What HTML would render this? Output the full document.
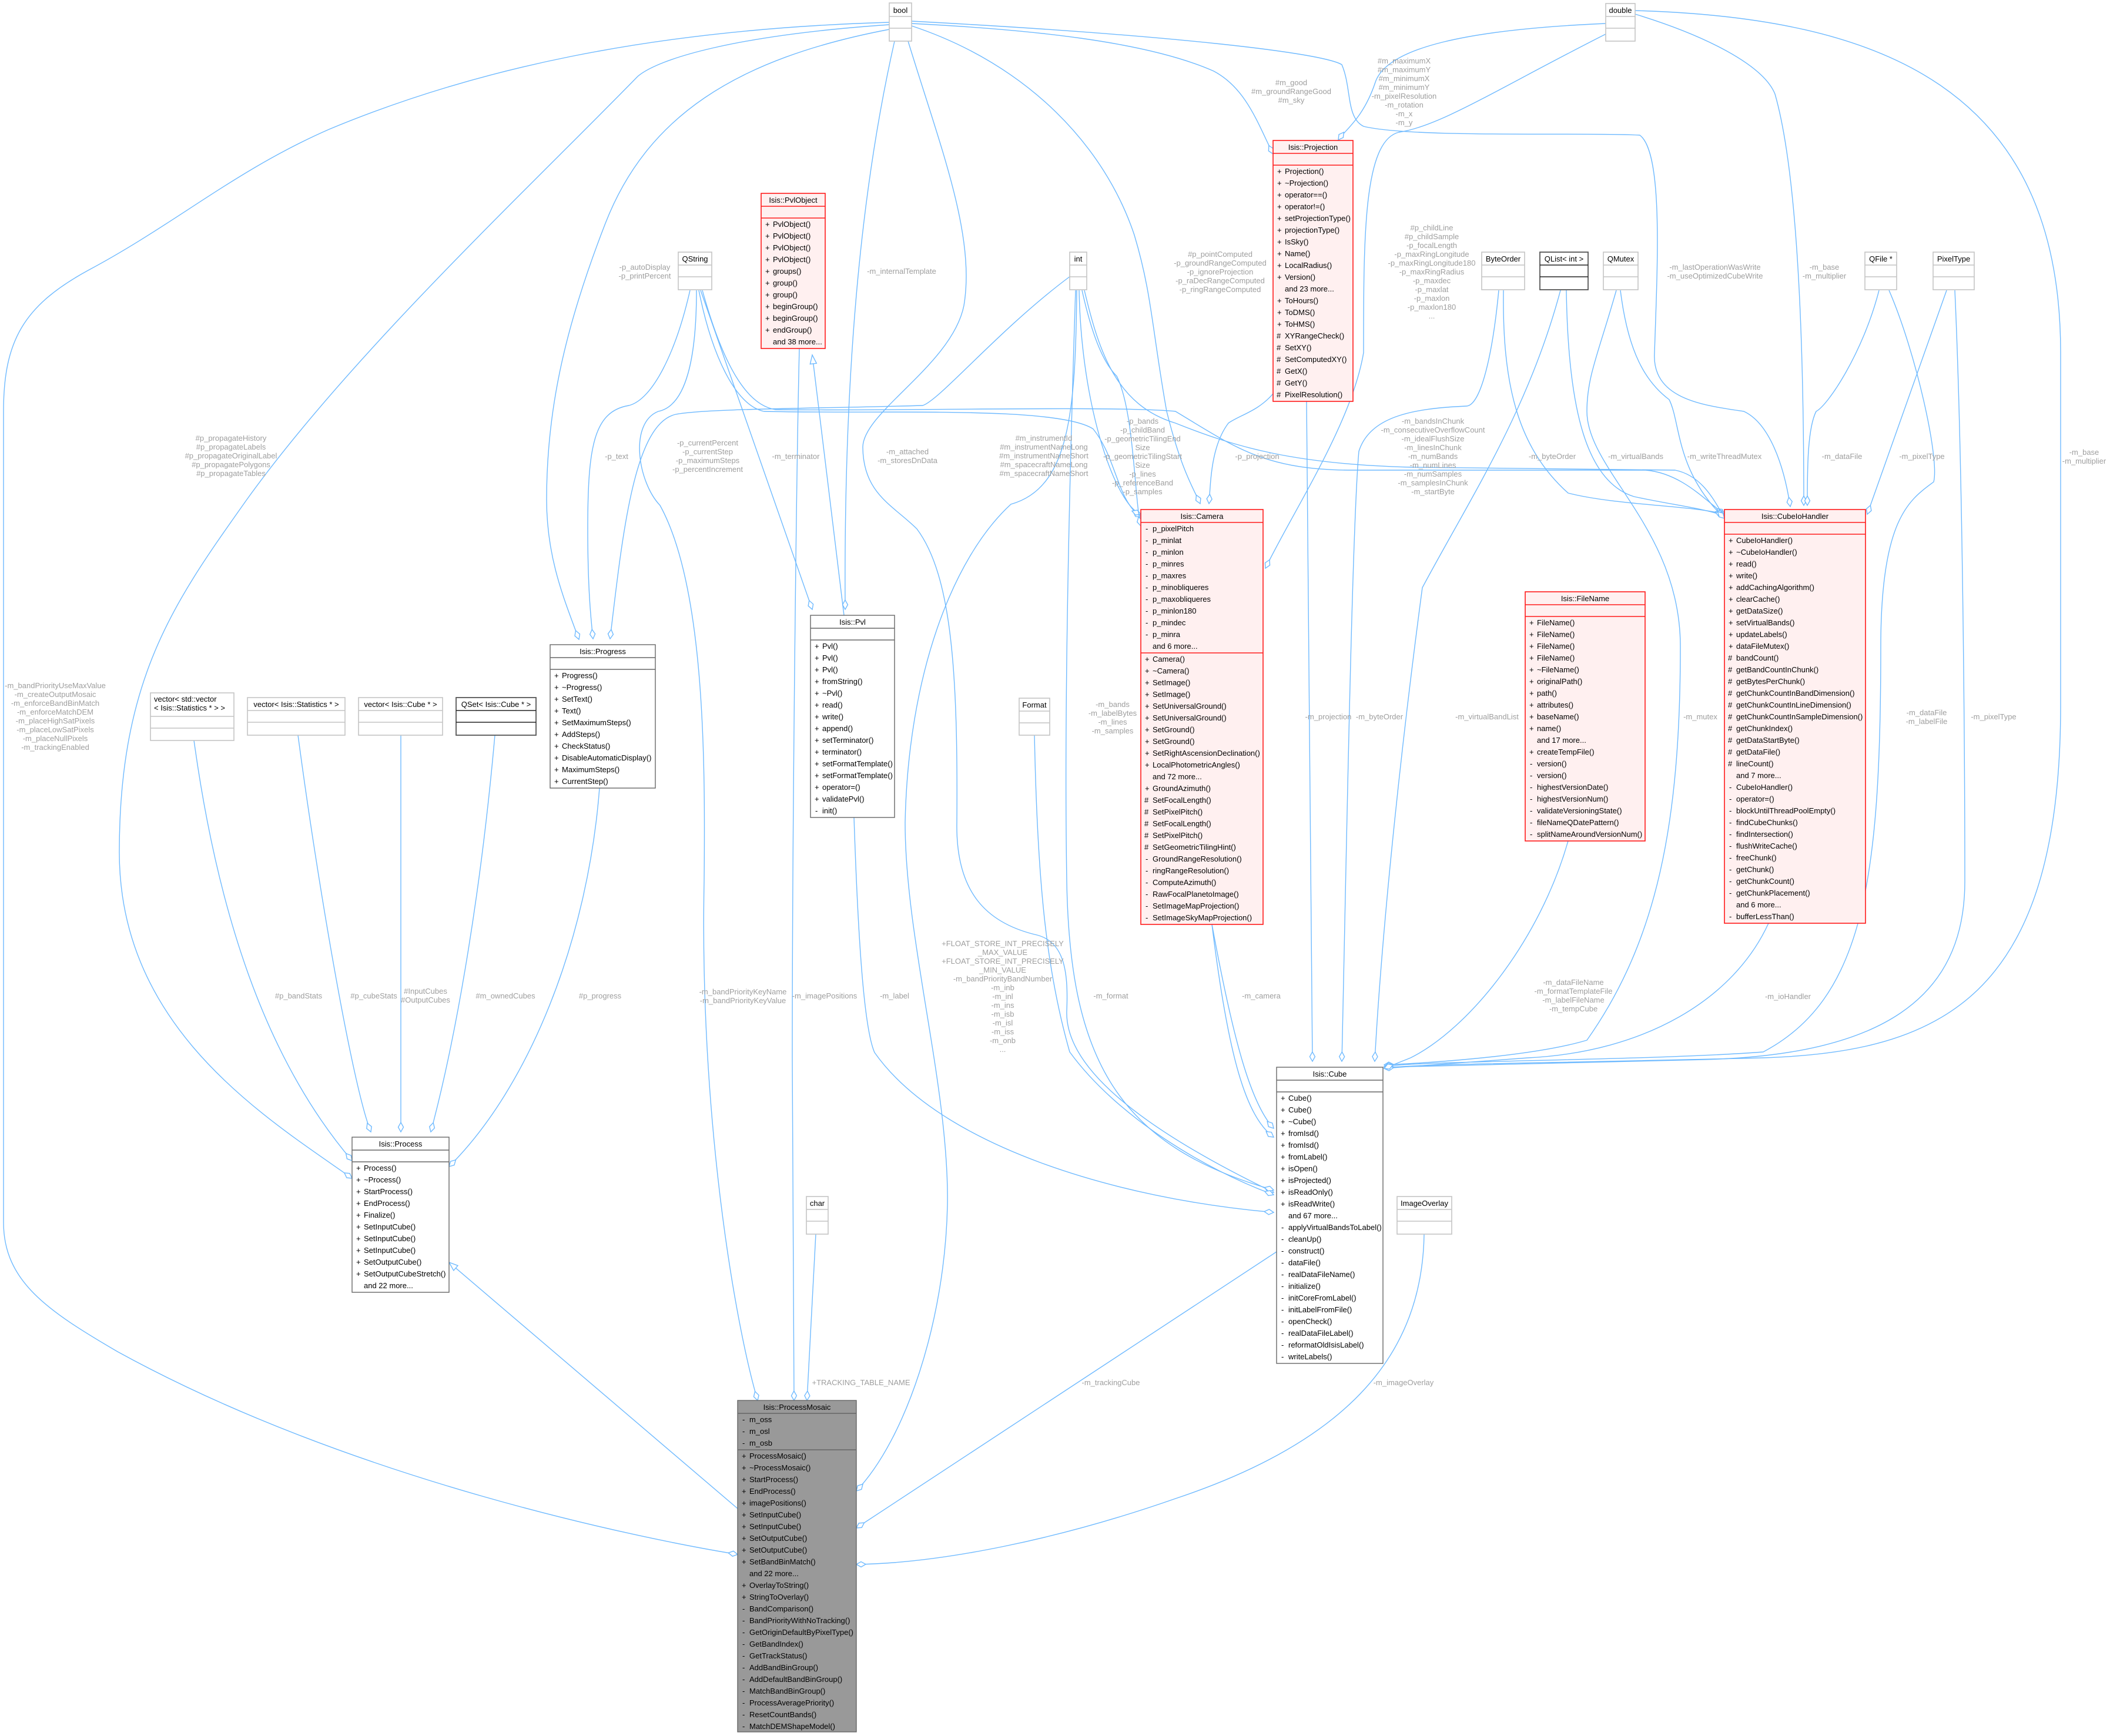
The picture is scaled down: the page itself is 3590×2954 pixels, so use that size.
<!DOCTYPE html>
<html><head><meta charset="utf-8"><style>
html,body{margin:0;padding:0;background:#fff;}
svg{display:block;}
.t{font-family:"Liberation Sans",Arial,sans-serif;font-size:13px;fill:#000;}
.l{font-family:"Liberation Sans",Arial,sans-serif;font-size:13px;fill:#9e9e9e;text-anchor:middle;}
.e{fill:none;stroke:#6fbaff;stroke-width:1.4;marker-end:url(#d);}
.i{fill:none;stroke:#6fbaff;stroke-width:1.4;marker-end:url(#tr);}
.c{text-anchor:middle;}
.rb{fill:#fff0f0;stroke:#ff1a1a;stroke-width:1.6;}
.rl{stroke:#ff1a1a;stroke-width:1.6;}
.nb{fill:#fff;stroke:#666;stroke-width:1.4;}
.nl{stroke:#666;stroke-width:1.4;}
.gb{fill:#fff;stroke:#c4c4c4;stroke-width:1.6;}
.gl{stroke:#c4c4c4;stroke-width:1.6;}
.db{fill:#fff;stroke:#555;stroke-width:1.8;}
.dl{stroke:#222;stroke-width:1.6;}
</style></head><body>
<svg width="3590" height="2954" viewBox="0 0 3590 2954" xmlns="http://www.w3.org/2000/svg">
<defs>
<marker id="d" markerWidth="20" markerHeight="12" refX="17" refY="6" orient="auto" markerUnits="userSpaceOnUse"><path d="M1,6 L9,1.5 L17,6 L9,10.5 Z" fill="#fff" stroke="#6fbaff" stroke-width="1.4"/></marker>
<marker id="tr" markerWidth="18" markerHeight="14" refX="16" refY="7" orient="auto" markerUnits="userSpaceOnUse"><path d="M1,1.5 L16,7 L1,12.5 Z" fill="#fff" stroke="#6fbaff" stroke-width="1.4"/></marker>
</defs>

<!-- EDGES -->
<path class="e" d="M1513,38 C1100,50 800,120 560,220 C400,290 300,380 150,460 C40,520 6,580 6,700 L6,2080 C6,2180 80,2230 200,2300 C600,2520 1100,2620 1255,2645"/>
<path class="e" d="M1513,42 C1250,60 1120,100 1085,130 C900,320 600,600 420,850 C300,1020 203,1150 203,1450 C203,1750 450,1900 599,2005"/>
<path class="e" d="M1513,50 C1250,100 1100,200 1030,380 C960,560 930,700 930,850 C930,950 960,1020 985,1088"/>
<path class="e" d="M1522,70 C1470,300 1435,600 1438,1037"/>
<path class="e" d="M1545,70 C1600,250 1660,400 1640,520 C1620,620 1470,700 1468,760 C1468,840 1520,860 1560,900 C1620,980 1630,1150 1628,1400 C1626,1520 1680,1570 1760,1590 C1810,1600 1818,1650 1815,1720 C1812,1800 1900,1900 2167,2029"/>
<path class="e" d="M1551,44 C1750,110 1880,250 1930,400 C1960,500 1960,560 1985,700 C2010,800 2030,830 2042,857"/>
<path class="e" d="M1551,40 C1750,50 1950,70 2065,121 C2120,150 2140,210 2166,262"/>
<path class="e" d="M1551,36 C2000,60 2250,90 2283,110 C2300,150 2290,200 2320,215 C2400,235 2700,225 2790,230 C2830,260 2820,450 2815,600 C2810,680 2900,690 2967,700 C3010,720 3035,790 3046,862"/>
<path class="e" d="M1174,494 C1150,600 1110,680 1070,690 C1010,700 1000,760 1000,900 C1000,1000 1005,1050 1009,1087"/>
<path class="e" d="M1821,470 C1700,560 1600,680 1570,690 C1400,695 1200,695 1150,705 C1080,720 1060,900 1038,1087"/>
<path class="e" d="M1192,494 L1382,1037"/>
<path class="e" d="M1185,494 C1185,600 1170,690 1120,700 C1070,720 1085,820 1123,860 C1200,1000 1200,1300 1198,1500 C1190,1900 1250,2250 1289,2383"/>
<path class="e" d="M1189,494 C1210,600 1250,690 1300,700 C1500,705 1800,690 1860,730 C1900,780 1900,850 1941,880"/>
<path class="e" d="M1195,494 C1230,620 1270,690 1320,697 C1500,700 1900,690 2000,700 C2100,760 2150,800 2300,800 L2800,800 C2860,805 2900,850 2934,875"/>
<path class="i" d="M1436,1047 L1382,604"/>
<path class="e" d="M1360,593 C1355,800 1348,1400 1348,1800 C1348,2100 1350,2300 1351,2383"/>
<path class="e" d="M1388,2100 L1373,2383"/>
<path class="e" d="M1832,494 C1830,700 1820,830 1720,858 C1620,950 1545,1150 1540,1400 C1540,1600 1615,1850 1612,2050 C1608,2250 1540,2450 1457,2537"/>
<path class="e" d="M1836,494 C1840,700 1900,860 1941,875"/>
<path class="e" d="M1841,494 C1860,580 1880,620 1900,640 C1930,700 1930,850 1941,895"/>
<path class="e" d="M1830,494 C1820,800 1810,1200 1815,1500 C1820,1800 1900,1950 2167,2025"/>
<path class="e" d="M1845,494 C1870,600 1900,690 2000,720 C2100,760 2200,790 2400,795 L2850,800 C2900,810 2920,860 2934,880"/>
<path class="e" d="M1453,1391 C1460,1600 1470,1750 1488,1791 C1600,1950 1900,2040 2167,2063"/>
<path class="e" d="M1760,1250 C1765,1500 1780,1650 1820,1790 C1900,1900 2050,1990 2167,2033"/>
<path class="e" d="M2062,1573 C2090,1800 2120,1900 2167,1935"/>
<path class="e" d="M2062,1573 C2100,1780 2130,1880 2167,1920"/>
<path class="e" d="M2223,683 L2233,1806"/>
<path class="e" d="M2166,670 C2140,700 2110,706 2090,720 C2060,760 2060,820 2057,857"/>
<path class="e" d="M2732,40 C2500,50 2360,80 2340,140 C2320,200 2290,220 2277,238"/>
<path class="e" d="M2732,58 C2550,150 2450,215 2380,225 C2320,240 2320,400 2320,600 C2300,720 2200,870 2153,967"/>
<path class="e" d="M2782,24 C2900,60 3000,110 3020,160 C3060,300 3069,600 3069,860"/>
<path class="e" d="M2782,18 C3200,30 3506,150 3506,600 L3506,1200 C3506,1700 3300,1790 3000,1800 C2600,1810 2400,1810 2355,1818"/>
<path class="e" d="M2550,494 C2540,600 2520,690 2495,691 C2400,695 2330,710 2312,768 C2300,900 2290,1500 2283,1806"/>
<path class="e" d="M2558,494 C2556,650 2580,760 2668,839 C2750,860 2880,860 2934,875"/>
<path class="e" d="M2655,494 C2600,700 2500,850 2420,1000 C2380,1300 2350,1600 2339,1806"/>
<path class="e" d="M2665,494 C2668,700 2700,820 2780,845 C2850,860 2900,865 2934,878"/>
<path class="e" d="M2757,494 C2770,600 2800,650 2840,680 C2860,720 2850,800 2934,882"/>
<path class="e" d="M2750,494 C2720,600 2700,640 2700,700 C2700,800 2859,900 2859,1100 C2859,1400 2820,1600 2700,1770 C2600,1800 2400,1810 2355,1812"/>
<path class="e" d="M3197,494 C3170,600 3110,690 3090,700 C3075,730 3075,800 3075,860"/>
<path class="e" d="M3214,494 C3260,600 3300,780 3290,820 C3250,850 3200,880 3200,1100 C3200,1500 3170,1700 3000,1790 C2800,1805 2400,1805 2355,1815"/>
<path class="e" d="M3312,494 L3177,875"/>
<path class="e" d="M3326,494 C3340,800 3343,1300 3343,1500 C3343,1700 3200,1795 2900,1803 L2355,1816"/>
<path class="e" d="M3009,1571 C2950,1700 2800,1790 2600,1800 L2355,1818"/>
<path class="e" d="M2668,1431 C2620,1600 2500,1750 2400,1800 L2355,1818"/>
<path class="e" d="M330,1260 C370,1550 450,1800 599,1975"/>
<path class="e" d="M507,1251 C540,1500 600,1850 631,1926"/>
<path class="e" d="M682,1251 L682,1926"/>
<path class="e" d="M842,1251 C820,1500 780,1750 733,1926"/>
<path class="e" d="M1020,1341 C1000,1600 900,1850 764,1985"/>
<path class="i" d="M1255,2567 L764,2148"/>
<path class="e" d="M2172,2130 L1457,2600"/>
<path class="e" d="M2423,2100 C2420,2300 2300,2450 2000,2550 C1800,2620 1600,2660 1457,2662"/>

<!-- EDGE LABELS -->
<text class="l" x="94"><tspan x="94" y="1171">-m_bandPriorityUseMaxValue</tspan><tspan x="94" dy="15">-m_createOutputMosaic</tspan><tspan x="94" dy="15">-m_enforceBandBinMatch</tspan><tspan x="94" dy="15">-m_enforceMatchDEM</tspan><tspan x="94" dy="15">-m_placeHighSatPixels</tspan><tspan x="94" dy="15">-m_placeLowSatPixels</tspan><tspan x="94" dy="15">-m_placeNullPixels</tspan><tspan x="94" dy="15">-m_trackingEnabled</tspan></text>
<text class="l"><tspan x="393" y="750">#p_propagateHistory</tspan><tspan x="393" dy="15">#p_propagateLabels</tspan><tspan x="393" dy="15">#p_propagateOriginalLabel</tspan><tspan x="393" dy="15">#p_propagatePolygons</tspan><tspan x="393" dy="15">#p_propagateTables</tspan></text>
<text class="l" x="508" y="1699">#p_bandStats</text>
<text class="l" x="636" y="1699">#p_cubeStats</text>
<text class="l"><tspan x="724" y="1691">#InputCubes</tspan><tspan x="724" dy="15">#OutputCubes</tspan></text>
<text class="l" x="860" y="1699">#m_ownedCubes</text>
<text class="l" x="1021" y="1699">#p_progress</text>
<text class="l"><tspan x="1097" y="459">-p_autoDisplay</tspan><tspan x="1097" dy="15">-p_printPercent</tspan></text>
<text class="l" x="1049" y="781">-p_text</text>
<text class="l"><tspan x="1204" y="758">-p_currentPercent</tspan><tspan x="1204" dy="15">-p_currentStep</tspan><tspan x="1204" dy="15">-p_maximumSteps</tspan><tspan x="1204" dy="15">-p_percentIncrement</tspan></text>
<text class="l" x="1354" y="781">-m_terminator</text>
<text class="l" x="1534" y="466">-m_internalTemplate</text>
<text class="l"><tspan x="1544" y="773">-m_attached</tspan><tspan x="1544" dy="15">-m_storesDnData</tspan></text>
<text class="l"><tspan x="1776" y="750">#m_instrumentId</tspan><tspan x="1776" dy="15">#m_instrumentNameLong</tspan><tspan x="1776" dy="15">#m_instrumentNameShort</tspan><tspan x="1776" dy="15">#m_spacecraftNameLong</tspan><tspan x="1776" dy="15">#m_spacecraftNameShort</tspan></text>
<text class="l"><tspan x="1944" y="721">-p_bands</tspan><tspan x="1944" dy="15">-p_childBand</tspan><tspan x="1944" dy="15">-p_geometricTilingEnd</tspan><tspan x="1944" dy="15">Size</tspan><tspan x="1944" dy="15">-p_geometricTilingStart</tspan><tspan x="1944" dy="15">Size</tspan><tspan x="1944" dy="15">-p_lines</tspan><tspan x="1944" dy="15">-p_referenceBand</tspan><tspan x="1944" dy="15">-p_samples</tspan></text>
<text class="l"><tspan x="2076" y="437">#p_pointComputed</tspan><tspan x="2076" dy="15">-p_groundRangeComputed</tspan><tspan x="2076" dy="15">-p_ignoreProjection</tspan><tspan x="2076" dy="15">-p_raDecRangeComputed</tspan><tspan x="2076" dy="15">-p_ringRangeComputed</tspan></text>
<text class="l"><tspan x="2197" y="145">#m_good</tspan><tspan x="2197" dy="15">#m_groundRangeGood</tspan><tspan x="2197" dy="15">#m_sky</tspan></text>
<text class="l"><tspan x="2389" y="108">#m_maximumX</tspan><tspan x="2389" dy="15">#m_maximumY</tspan><tspan x="2389" dy="15">#m_minimumX</tspan><tspan x="2389" dy="15">#m_minimumY</tspan><tspan x="2389" dy="15">-m_pixelResolution</tspan><tspan x="2389" dy="15">-m_rotation</tspan><tspan x="2389" dy="15">-m_x</tspan><tspan x="2389" dy="15">-m_y</tspan></text>
<text class="l"><tspan x="2436" y="392">#p_childLine</tspan><tspan x="2436" dy="15">#p_childSample</tspan><tspan x="2436" dy="15">-p_focalLength</tspan><tspan x="2436" dy="15">-p_maxRingLongitude</tspan><tspan x="2436" dy="15">-p_maxRingLongitude180</tspan><tspan x="2436" dy="15">-p_maxRingRadius</tspan><tspan x="2436" dy="15">-p_maxdec</tspan><tspan x="2436" dy="15">-p_maxlat</tspan><tspan x="2436" dy="15">-p_maxlon</tspan><tspan x="2436" dy="15">-p_maxlon180</tspan><tspan x="2436" dy="15">...</tspan></text>
<text class="l" x="2139" y="781">-p_projection</text>
<text class="l"><tspan x="2438" y="721">-m_bandsInChunk</tspan><tspan x="2438" dy="15">-m_consecutiveOverflowCount</tspan><tspan x="2438" dy="15">-m_idealFlushSize</tspan><tspan x="2438" dy="15">-m_linesInChunk</tspan><tspan x="2438" dy="15">-m_numBands</tspan><tspan x="2438" dy="15">-m_numLines</tspan><tspan x="2438" dy="15">-m_numSamples</tspan><tspan x="2438" dy="15">-m_samplesInChunk</tspan><tspan x="2438" dy="15">-m_startByte</tspan></text>
<text class="l" x="2641" y="781">-m_byteOrder</text>
<text class="l" x="2783" y="781">-m_virtualBands</text>
<text class="l" x="2934" y="781">-m_writeThreadMutex</text>
<text class="l"><tspan x="2918" y="459">-m_lastOperationWasWrite</tspan><tspan x="2918" dy="15">-m_useOptimizedCubeWrite</tspan></text>
<text class="l"><tspan x="3104" y="459">-m_base</tspan><tspan x="3104" dy="15">-m_multiplier</tspan></text>
<text class="l" x="3134" y="781">-m_dataFile</text>
<text class="l" x="3270" y="781">-m_pixelType</text>
<text class="l"><tspan x="3546" y="774">-m_base</tspan><tspan x="3546" dy="15">-m_multiplier</tspan></text>
<text class="l" x="2260" y="1224">-m_projection</text>
<text class="l" x="2347" y="1224">-m_byteOrder</text>
<text class="l" x="2530" y="1224">-m_virtualBandList</text>
<text class="l" x="2893" y="1224">-m_mutex</text>
<text class="l"><tspan x="3278" y="1217">-m_dataFile</tspan><tspan x="3278" dy="15">-m_labelFile</tspan></text>
<text class="l" x="3392" y="1224">-m_pixelType</text>
<text class="l"><tspan x="2677" y="1676">-m_dataFileName</tspan><tspan x="2677" dy="15">-m_formatTemplateFile</tspan><tspan x="2677" dy="15">-m_labelFileName</tspan><tspan x="2677" dy="15">-m_tempCube</tspan></text>
<text class="l" x="3042" y="1700">-m_ioHandler</text>
<text class="l" x="2146" y="1699">-m_camera</text>
<text class="l" x="1890" y="1699">-m_format</text>
<text class="l" x="1522" y="1699">-m_label</text>
<text class="l" x="1403" y="1699">-m_imagePositions</text>
<text class="l"><tspan x="1264" y="1692">-m_bandPriorityKeyName</tspan><tspan x="1264" dy="15">-m_bandPriorityKeyValue</tspan></text>
<text class="l"><tspan x="1706" y="1610">+FLOAT_STORE_INT_PRECISELY</tspan><tspan x="1706" dy="15">_MAX_VALUE</tspan><tspan x="1706" dy="15">+FLOAT_STORE_INT_PRECISELY</tspan><tspan x="1706" dy="15">_MIN_VALUE</tspan><tspan x="1706" dy="15">-m_bandPriorityBandNumber</tspan><tspan x="1706" dy="15">-m_inb</tspan><tspan x="1706" dy="15">-m_inl</tspan><tspan x="1706" dy="15">-m_ins</tspan><tspan x="1706" dy="15">-m_isb</tspan><tspan x="1706" dy="15">-m_isl</tspan><tspan x="1706" dy="15">-m_iss</tspan><tspan x="1706" dy="15">-m_onb</tspan><tspan x="1706" dy="15">...</tspan></text>
<text class="l"><tspan x="1893" y="1203">-m_bands</tspan><tspan x="1893" dy="15">-m_labelBytes</tspan><tspan x="1893" dy="15">-m_lines</tspan><tspan x="1893" dy="15">-m_samples</tspan></text>
<text class="l" x="1465" y="2357">+TRACKING_TABLE_NAME</text>
<text class="l" x="1890" y="2357">-m_trackingCube</text>
<text class="l" x="2388" y="2357">-m_imageOverlay</text>

<!-- SMALL TYPE BOXES -->
<g class="t">
<rect class="gb" x="1513" y="5" width="38" height="65"/><line class="gl" x1="1513" y1="28" x2="1551" y2="28"/><line class="gl" x1="1513" y1="48" x2="1551" y2="48"/><text class="c" x="1532" y="22">bool</text>
<rect class="gb" x="2732" y="6" width="50" height="64"/><line class="gl" x1="2732" y1="28" x2="2782" y2="28"/><line class="gl" x1="2732" y1="48" x2="2782" y2="48"/><text class="c" x="2757" y="22">double</text>
<rect class="gb" x="1154" y="429" width="57" height="64"/><line class="gl" x1="1154" y1="451" x2="1211" y2="451"/><line class="gl" x1="1154" y1="471" x2="1211" y2="471"/><text class="c" x="1182.5" y="445">QString</text>
<rect class="gb" x="1820" y="429" width="29" height="64"/><line class="gl" x1="1820" y1="451" x2="1849" y2="451"/><line class="gl" x1="1820" y1="471" x2="1849" y2="471"/><text class="c" x="1834.5" y="445">int</text>
<rect class="gb" x="2521" y="429" width="73" height="64"/><line class="gl" x1="2521" y1="451" x2="2594" y2="451"/><line class="gl" x1="2521" y1="471" x2="2594" y2="471"/><text class="c" x="2557.5" y="445">ByteOrder</text>
<rect class="db" x="2620" y="429" width="82" height="64"/><line class="dl" x1="2620" y1="451" x2="2702" y2="451"/><line class="dl" x1="2620" y1="471" x2="2702" y2="471"/><text class="c" x="2661" y="445">QList&lt; int &gt;</text>
<rect class="gb" x="2728" y="429" width="59" height="64"/><line class="gl" x1="2728" y1="451" x2="2787" y2="451"/><line class="gl" x1="2728" y1="471" x2="2787" y2="471"/><text class="c" x="2757.5" y="445">QMutex</text>
<rect class="gb" x="3173" y="429" width="54" height="64"/><line class="gl" x1="3173" y1="451" x2="3227" y2="451"/><line class="gl" x1="3173" y1="471" x2="3227" y2="471"/><text class="c" x="3200" y="445">QFile *</text>
<rect class="gb" x="3289" y="429" width="70" height="64"/><line class="gl" x1="3289" y1="451" x2="3359" y2="451"/><line class="gl" x1="3289" y1="471" x2="3359" y2="471"/><text class="c" x="3324" y="445">PixelType</text>
<rect class="gb" x="1734" y="1188" width="52" height="63"/><line class="gl" x1="1734" y1="1210" x2="1786" y2="1210"/><line class="gl" x1="1734" y1="1230" x2="1786" y2="1230"/><text class="c" x="1760" y="1204">Format</text>
<rect class="gb" x="1372" y="2036" width="37" height="64"/><line class="gl" x1="1372" y1="2058" x2="1409" y2="2058"/><line class="gl" x1="1372" y1="2078" x2="1409" y2="2078"/><text class="c" x="1390.5" y="2052">char</text>
<rect class="gb" x="2377" y="2036" width="93" height="64"/><line class="gl" x1="2377" y1="2058" x2="2470" y2="2058"/><line class="gl" x1="2377" y1="2078" x2="2470" y2="2078"/><text class="c" x="2423.5" y="2052">ImageOverlay</text>
<rect class="gb" x="256" y="1179" width="142" height="81"/><line class="gl" x1="256" y1="1219" x2="398" y2="1219"/><line class="gl" x1="256" y1="1239" x2="398" y2="1239"/><text x="262" y="1194">vector&lt; std::vector</text><text x="262" y="1209">&lt; Isis::Statistics * &gt; &gt;</text>
<rect class="gb" x="421" y="1187" width="166" height="64"/><line class="gl" x1="421" y1="1209" x2="587" y2="1209"/><line class="gl" x1="421" y1="1229" x2="587" y2="1229"/><text class="c" x="504" y="1203">vector&lt; Isis::Statistics * &gt;</text>
<rect class="gb" x="610" y="1187" width="143" height="64"/><line class="gl" x1="610" y1="1209" x2="753" y2="1209"/><line class="gl" x1="610" y1="1229" x2="753" y2="1229"/><text class="c" x="681.5" y="1203">vector&lt; Isis::Cube * &gt;</text>
<rect class="db" x="776" y="1187" width="136" height="64"/><line class="dl" x1="776" y1="1209" x2="912" y2="1209"/><line class="dl" x1="776" y1="1229" x2="912" y2="1229"/><text class="c" x="844" y="1203">QSet&lt; Isis::Cube * &gt;</text>
</g>

<!-- Isis::Projection -->
<g class="t">
<rect class="rb" x="2166" y="239" width="136" height="444"/><line class="rl" x1="2166" y1="261" x2="2302" y2="261"/><line class="rl" x1="2166" y1="281" x2="2302" y2="281"/>
<text class="c" x="2234" y="255">Isis::Projection</text>
<text y="296"><tspan x="2173">+</tspan><tspan x="2186">Projection()</tspan></text>
<text y="316"><tspan x="2173">+</tspan><tspan x="2186">~Projection()</tspan></text>
<text y="336"><tspan x="2173">+</tspan><tspan x="2186">operator==()</tspan></text>
<text y="356"><tspan x="2173">+</tspan><tspan x="2186">operator!=()</tspan></text>
<text y="376"><tspan x="2173">+</tspan><tspan x="2186">setProjectionType()</tspan></text>
<text y="396"><tspan x="2173">+</tspan><tspan x="2186">projectionType()</tspan></text>
<text y="416"><tspan x="2173">+</tspan><tspan x="2186">IsSky()</tspan></text>
<text y="436"><tspan x="2173">+</tspan><tspan x="2186">Name()</tspan></text>
<text y="456"><tspan x="2173">+</tspan><tspan x="2186">LocalRadius()</tspan></text>
<text y="476"><tspan x="2173">+</tspan><tspan x="2186">Version()</tspan></text>
<text y="496" x="2186">and 23 more...</text>
<text y="516"><tspan x="2173">+</tspan><tspan x="2186">ToHours()</tspan></text>
<text y="536"><tspan x="2173">+</tspan><tspan x="2186">ToDMS()</tspan></text>
<text y="556"><tspan x="2173">+</tspan><tspan x="2186">ToHMS()</tspan></text>
<text y="576"><tspan x="2172">#</tspan><tspan x="2186">XYRangeCheck()</tspan></text>
<text y="596"><tspan x="2172">#</tspan><tspan x="2186">SetXY()</tspan></text>
<text y="616"><tspan x="2172">#</tspan><tspan x="2186">SetComputedXY()</tspan></text>
<text y="636"><tspan x="2172">#</tspan><tspan x="2186">GetX()</tspan></text>
<text y="656"><tspan x="2172">#</tspan><tspan x="2186">GetY()</tspan></text>
<text y="676"><tspan x="2172">#</tspan><tspan x="2186">PixelResolution()</tspan></text>
</g>

<!-- Isis::PvlObject -->
<g class="t">
<rect class="rb" x="1295" y="329" width="109" height="264"/><line class="rl" x1="1295" y1="351" x2="1404" y2="351"/><line class="rl" x1="1295" y1="371" x2="1404" y2="371"/>
<text class="c" x="1349.5" y="345">Isis::PvlObject</text>
<text y="386"><tspan x="1302">+</tspan><tspan x="1315">PvlObject()</tspan></text>
<text y="406"><tspan x="1302">+</tspan><tspan x="1315">PvlObject()</tspan></text>
<text y="426"><tspan x="1302">+</tspan><tspan x="1315">PvlObject()</tspan></text>
<text y="446"><tspan x="1302">+</tspan><tspan x="1315">PvlObject()</tspan></text>
<text y="466"><tspan x="1302">+</tspan><tspan x="1315">groups()</tspan></text>
<text y="486"><tspan x="1302">+</tspan><tspan x="1315">group()</tspan></text>
<text y="506"><tspan x="1302">+</tspan><tspan x="1315">group()</tspan></text>
<text y="526"><tspan x="1302">+</tspan><tspan x="1315">beginGroup()</tspan></text>
<text y="546"><tspan x="1302">+</tspan><tspan x="1315">beginGroup()</tspan></text>
<text y="566"><tspan x="1302">+</tspan><tspan x="1315">endGroup()</tspan></text>
<text y="586" x="1315">and 38 more...</text>
</g>

<!-- Isis::Camera -->
<g class="t">
<rect class="rb" x="1941" y="867" width="208" height="706"/><line class="rl" x1="1941" y1="889" x2="2149" y2="889"/><line class="rl" x1="1941" y1="1111" x2="2149" y2="1111"/>
<text class="c" x="2045" y="883">Isis::Camera</text>
<text y="904"><tspan x="1949">-</tspan><tspan x="1961">p_pixelPitch</tspan></text>
<text y="924"><tspan x="1949">-</tspan><tspan x="1961">p_minlat</tspan></text>
<text y="944"><tspan x="1949">-</tspan><tspan x="1961">p_minlon</tspan></text>
<text y="964"><tspan x="1949">-</tspan><tspan x="1961">p_minres</tspan></text>
<text y="984"><tspan x="1949">-</tspan><tspan x="1961">p_maxres</tspan></text>
<text y="1004"><tspan x="1949">-</tspan><tspan x="1961">p_minobliqueres</tspan></text>
<text y="1024"><tspan x="1949">-</tspan><tspan x="1961">p_maxobliqueres</tspan></text>
<text y="1044"><tspan x="1949">-</tspan><tspan x="1961">p_minlon180</tspan></text>
<text y="1064"><tspan x="1949">-</tspan><tspan x="1961">p_mindec</tspan></text>
<text y="1084"><tspan x="1949">-</tspan><tspan x="1961">p_minra</tspan></text>
<text y="1104" x="1961">and 6 more...</text>
<text y="1126"><tspan x="1948">+</tspan><tspan x="1961">Camera()</tspan></text>
<text y="1146"><tspan x="1948">+</tspan><tspan x="1961">~Camera()</tspan></text>
<text y="1166"><tspan x="1948">+</tspan><tspan x="1961">SetImage()</tspan></text>
<text y="1186"><tspan x="1948">+</tspan><tspan x="1961">SetImage()</tspan></text>
<text y="1206"><tspan x="1948">+</tspan><tspan x="1961">SetUniversalGround()</tspan></text>
<text y="1226"><tspan x="1948">+</tspan><tspan x="1961">SetUniversalGround()</tspan></text>
<text y="1246"><tspan x="1948">+</tspan><tspan x="1961">SetGround()</tspan></text>
<text y="1266"><tspan x="1948">+</tspan><tspan x="1961">SetGround()</tspan></text>
<text y="1286"><tspan x="1948">+</tspan><tspan x="1961">SetRightAscensionDeclination()</tspan></text>
<text y="1306"><tspan x="1948">+</tspan><tspan x="1961">LocalPhotometricAngles()</tspan></text>
<text y="1326" x="1961">and 72 more...</text>
<text y="1346"><tspan x="1948">+</tspan><tspan x="1961">GroundAzimuth()</tspan></text>
<text y="1366"><tspan x="1947">#</tspan><tspan x="1961">SetFocalLength()</tspan></text>
<text y="1386"><tspan x="1947">#</tspan><tspan x="1961">SetPixelPitch()</tspan></text>
<text y="1406"><tspan x="1947">#</tspan><tspan x="1961">SetFocalLength()</tspan></text>
<text y="1426"><tspan x="1947">#</tspan><tspan x="1961">SetPixelPitch()</tspan></text>
<text y="1446"><tspan x="1947">#</tspan><tspan x="1961">SetGeometricTilingHint()</tspan></text>
<text y="1466"><tspan x="1949">-</tspan><tspan x="1961">GroundRangeResolution()</tspan></text>
<text y="1486"><tspan x="1949">-</tspan><tspan x="1961">ringRangeResolution()</tspan></text>
<text y="1506"><tspan x="1949">-</tspan><tspan x="1961">ComputeAzimuth()</tspan></text>
<text y="1526"><tspan x="1949">-</tspan><tspan x="1961">RawFocalPlanetoImage()</tspan></text>
<text y="1546"><tspan x="1949">-</tspan><tspan x="1961">SetImageMapProjection()</tspan></text>
<text y="1566"><tspan x="1949">-</tspan><tspan x="1961">SetImageSkyMapProjection()</tspan></text>
</g>

<!-- Isis::CubeIoHandler -->
<g class="t">
<rect class="rb" x="2934" y="867" width="240" height="704"/><line class="rl" x1="2934" y1="889" x2="3174" y2="889"/><line class="rl" x1="2934" y1="909" x2="3174" y2="909"/>
<text class="c" x="3054" y="883">Isis::CubeIoHandler</text>
<text y="924"><tspan x="2941">+</tspan><tspan x="2954">CubeIoHandler()</tspan></text>
<text y="944"><tspan x="2941">+</tspan><tspan x="2954">~CubeIoHandler()</tspan></text>
<text y="964"><tspan x="2941">+</tspan><tspan x="2954">read()</tspan></text>
<text y="984"><tspan x="2941">+</tspan><tspan x="2954">write()</tspan></text>
<text y="1004"><tspan x="2941">+</tspan><tspan x="2954">addCachingAlgorithm()</tspan></text>
<text y="1024"><tspan x="2941">+</tspan><tspan x="2954">clearCache()</tspan></text>
<text y="1044"><tspan x="2941">+</tspan><tspan x="2954">getDataSize()</tspan></text>
<text y="1064"><tspan x="2941">+</tspan><tspan x="2954">setVirtualBands()</tspan></text>
<text y="1084"><tspan x="2941">+</tspan><tspan x="2954">updateLabels()</tspan></text>
<text y="1104"><tspan x="2941">+</tspan><tspan x="2954">dataFileMutex()</tspan></text>
<text y="1124"><tspan x="2940">#</tspan><tspan x="2954">bandCount()</tspan></text>
<text y="1144"><tspan x="2940">#</tspan><tspan x="2954">getBandCountInChunk()</tspan></text>
<text y="1164"><tspan x="2940">#</tspan><tspan x="2954">getBytesPerChunk()</tspan></text>
<text y="1184"><tspan x="2940">#</tspan><tspan x="2954">getChunkCountInBandDimension()</tspan></text>
<text y="1204"><tspan x="2940">#</tspan><tspan x="2954">getChunkCountInLineDimension()</tspan></text>
<text y="1224"><tspan x="2940">#</tspan><tspan x="2954">getChunkCountInSampleDimension()</tspan></text>
<text y="1244"><tspan x="2940">#</tspan><tspan x="2954">getChunkIndex()</tspan></text>
<text y="1264"><tspan x="2940">#</tspan><tspan x="2954">getDataStartByte()</tspan></text>
<text y="1284"><tspan x="2940">#</tspan><tspan x="2954">getDataFile()</tspan></text>
<text y="1304"><tspan x="2940">#</tspan><tspan x="2954">lineCount()</tspan></text>
<text y="1324" x="2954">and 7 more...</text>
<text y="1344"><tspan x="2942">-</tspan><tspan x="2954">CubeIoHandler()</tspan></text>
<text y="1364"><tspan x="2942">-</tspan><tspan x="2954">operator=()</tspan></text>
<text y="1384"><tspan x="2942">-</tspan><tspan x="2954">blockUntilThreadPoolEmpty()</tspan></text>
<text y="1404"><tspan x="2942">-</tspan><tspan x="2954">findCubeChunks()</tspan></text>
<text y="1424"><tspan x="2942">-</tspan><tspan x="2954">findIntersection()</tspan></text>
<text y="1444"><tspan x="2942">-</tspan><tspan x="2954">flushWriteCache()</tspan></text>
<text y="1464"><tspan x="2942">-</tspan><tspan x="2954">freeChunk()</tspan></text>
<text y="1484"><tspan x="2942">-</tspan><tspan x="2954">getChunk()</tspan></text>
<text y="1504"><tspan x="2942">-</tspan><tspan x="2954">getChunkCount()</tspan></text>
<text y="1524"><tspan x="2942">-</tspan><tspan x="2954">getChunkPlacement()</tspan></text>
<text y="1544" x="2954">and 6 more...</text>
<text y="1564"><tspan x="2942">-</tspan><tspan x="2954">bufferLessThan()</tspan></text>
</g>

<!-- Isis::FileName -->
<g class="t">
<rect class="rb" x="2595" y="1007" width="204" height="424"/><line class="rl" x1="2595" y1="1029" x2="2799" y2="1029"/><line class="rl" x1="2595" y1="1049" x2="2799" y2="1049"/>
<text class="c" x="2697" y="1023">Isis::FileName</text>
<text y="1064"><tspan x="2602">+</tspan><tspan x="2615">FileName()</tspan></text>
<text y="1084"><tspan x="2602">+</tspan><tspan x="2615">FileName()</tspan></text>
<text y="1104"><tspan x="2602">+</tspan><tspan x="2615">FileName()</tspan></text>
<text y="1124"><tspan x="2602">+</tspan><tspan x="2615">FileName()</tspan></text>
<text y="1144"><tspan x="2602">+</tspan><tspan x="2615">~FileName()</tspan></text>
<text y="1164"><tspan x="2602">+</tspan><tspan x="2615">originalPath()</tspan></text>
<text y="1184"><tspan x="2602">+</tspan><tspan x="2615">path()</tspan></text>
<text y="1204"><tspan x="2602">+</tspan><tspan x="2615">attributes()</tspan></text>
<text y="1224"><tspan x="2602">+</tspan><tspan x="2615">baseName()</tspan></text>
<text y="1244"><tspan x="2602">+</tspan><tspan x="2615">name()</tspan></text>
<text y="1264" x="2615">and 17 more...</text>
<text y="1284"><tspan x="2602">+</tspan><tspan x="2615">createTempFile()</tspan></text>
<text y="1304"><tspan x="2603">-</tspan><tspan x="2615">version()</tspan></text>
<text y="1324"><tspan x="2603">-</tspan><tspan x="2615">version()</tspan></text>
<text y="1344"><tspan x="2603">-</tspan><tspan x="2615">highestVersionDate()</tspan></text>
<text y="1364"><tspan x="2603">-</tspan><tspan x="2615">highestVersionNum()</tspan></text>
<text y="1384"><tspan x="2603">-</tspan><tspan x="2615">validateVersioningState()</tspan></text>
<text y="1404"><tspan x="2603">-</tspan><tspan x="2615">fileNameQDatePattern()</tspan></text>
<text y="1424"><tspan x="2603">-</tspan><tspan x="2615">splitNameAroundVersionNum()</tspan></text>
</g>

<!-- Isis::Pvl -->
<g class="t">
<rect class="nb" x="1379" y="1047" width="143" height="344"/><line class="nl" x1="1379" y1="1069" x2="1522" y2="1069"/><line class="nl" x1="1379" y1="1089" x2="1522" y2="1089"/>
<text class="c" x="1450.5" y="1063">Isis::Pvl</text>
<text y="1104"><tspan x="1386">+</tspan><tspan x="1399">Pvl()</tspan></text>
<text y="1124"><tspan x="1386">+</tspan><tspan x="1399">Pvl()</tspan></text>
<text y="1144"><tspan x="1386">+</tspan><tspan x="1399">Pvl()</tspan></text>
<text y="1164"><tspan x="1386">+</tspan><tspan x="1399">fromString()</tspan></text>
<text y="1184"><tspan x="1386">+</tspan><tspan x="1399">~Pvl()</tspan></text>
<text y="1204"><tspan x="1386">+</tspan><tspan x="1399">read()</tspan></text>
<text y="1224"><tspan x="1386">+</tspan><tspan x="1399">write()</tspan></text>
<text y="1244"><tspan x="1386">+</tspan><tspan x="1399">append()</tspan></text>
<text y="1264"><tspan x="1386">+</tspan><tspan x="1399">setTerminator()</tspan></text>
<text y="1284"><tspan x="1386">+</tspan><tspan x="1399">terminator()</tspan></text>
<text y="1304"><tspan x="1386">+</tspan><tspan x="1399">setFormatTemplate()</tspan></text>
<text y="1324"><tspan x="1386">+</tspan><tspan x="1399">setFormatTemplate()</tspan></text>
<text y="1344"><tspan x="1386">+</tspan><tspan x="1399">operator=()</tspan></text>
<text y="1364"><tspan x="1386">+</tspan><tspan x="1399">validatePvl()</tspan></text>
<text y="1384"><tspan x="1387">-</tspan><tspan x="1399">init()</tspan></text>
</g>

<!-- Isis::Progress -->
<g class="t">
<rect class="nb" x="936" y="1097" width="179" height="244"/><line class="nl" x1="936" y1="1119" x2="1115" y2="1119"/><line class="nl" x1="936" y1="1139" x2="1115" y2="1139"/>
<text class="c" x="1025.5" y="1113">Isis::Progress</text>
<text y="1154"><tspan x="943">+</tspan><tspan x="956">Progress()</tspan></text>
<text y="1174"><tspan x="943">+</tspan><tspan x="956">~Progress()</tspan></text>
<text y="1194"><tspan x="943">+</tspan><tspan x="956">SetText()</tspan></text>
<text y="1214"><tspan x="943">+</tspan><tspan x="956">Text()</tspan></text>
<text y="1234"><tspan x="943">+</tspan><tspan x="956">SetMaximumSteps()</tspan></text>
<text y="1254"><tspan x="943">+</tspan><tspan x="956">AddSteps()</tspan></text>
<text y="1274"><tspan x="943">+</tspan><tspan x="956">CheckStatus()</tspan></text>
<text y="1294"><tspan x="943">+</tspan><tspan x="956">DisableAutomaticDisplay()</tspan></text>
<text y="1314"><tspan x="943">+</tspan><tspan x="956">MaximumSteps()</tspan></text>
<text y="1334"><tspan x="943">+</tspan><tspan x="956">CurrentStep()</tspan></text>
</g>

<!-- Isis::Process -->
<g class="t">
<rect class="nb" x="599" y="1935" width="165" height="264"/><line class="nl" x1="599" y1="1957" x2="764" y2="1957"/><line class="nl" x1="599" y1="1977" x2="764" y2="1977"/>
<text class="c" x="681.5" y="1951">Isis::Process</text>
<text y="1992"><tspan x="606">+</tspan><tspan x="619">Process()</tspan></text>
<text y="2012"><tspan x="606">+</tspan><tspan x="619">~Process()</tspan></text>
<text y="2032"><tspan x="606">+</tspan><tspan x="619">StartProcess()</tspan></text>
<text y="2052"><tspan x="606">+</tspan><tspan x="619">EndProcess()</tspan></text>
<text y="2072"><tspan x="606">+</tspan><tspan x="619">Finalize()</tspan></text>
<text y="2092"><tspan x="606">+</tspan><tspan x="619">SetInputCube()</tspan></text>
<text y="2112"><tspan x="606">+</tspan><tspan x="619">SetInputCube()</tspan></text>
<text y="2132"><tspan x="606">+</tspan><tspan x="619">SetInputCube()</tspan></text>
<text y="2152"><tspan x="606">+</tspan><tspan x="619">SetOutputCube()</tspan></text>
<text y="2172"><tspan x="606">+</tspan><tspan x="619">SetOutputCubeStretch()</tspan></text>
<text y="2192" x="619">and 22 more...</text>
</g>

<!-- Isis::Cube -->
<g class="t">
<rect class="nb" x="2172" y="1816" width="181" height="504"/><line class="nl" x1="2172" y1="1838" x2="2353" y2="1838"/><line class="nl" x1="2172" y1="1858" x2="2353" y2="1858"/>
<text class="c" x="2262.5" y="1832">Isis::Cube</text>
<text y="1873"><tspan x="2179">+</tspan><tspan x="2192">Cube()</tspan></text>
<text y="1893"><tspan x="2179">+</tspan><tspan x="2192">Cube()</tspan></text>
<text y="1913"><tspan x="2179">+</tspan><tspan x="2192">~Cube()</tspan></text>
<text y="1933"><tspan x="2179">+</tspan><tspan x="2192">fromIsd()</tspan></text>
<text y="1953"><tspan x="2179">+</tspan><tspan x="2192">fromIsd()</tspan></text>
<text y="1973"><tspan x="2179">+</tspan><tspan x="2192">fromLabel()</tspan></text>
<text y="1993"><tspan x="2179">+</tspan><tspan x="2192">isOpen()</tspan></text>
<text y="2013"><tspan x="2179">+</tspan><tspan x="2192">isProjected()</tspan></text>
<text y="2033"><tspan x="2179">+</tspan><tspan x="2192">isReadOnly()</tspan></text>
<text y="2053"><tspan x="2179">+</tspan><tspan x="2192">isReadWrite()</tspan></text>
<text y="2073" x="2192">and 67 more...</text>
<text y="2093"><tspan x="2180">-</tspan><tspan x="2192">applyVirtualBandsToLabel()</tspan></text>
<text y="2113"><tspan x="2180">-</tspan><tspan x="2192">cleanUp()</tspan></text>
<text y="2133"><tspan x="2180">-</tspan><tspan x="2192">construct()</tspan></text>
<text y="2153"><tspan x="2180">-</tspan><tspan x="2192">dataFile()</tspan></text>
<text y="2173"><tspan x="2180">-</tspan><tspan x="2192">realDataFileName()</tspan></text>
<text y="2193"><tspan x="2180">-</tspan><tspan x="2192">initialize()</tspan></text>
<text y="2213"><tspan x="2180">-</tspan><tspan x="2192">initCoreFromLabel()</tspan></text>
<text y="2233"><tspan x="2180">-</tspan><tspan x="2192">initLabelFromFile()</tspan></text>
<text y="2253"><tspan x="2180">-</tspan><tspan x="2192">openCheck()</tspan></text>
<text y="2273"><tspan x="2180">-</tspan><tspan x="2192">realDataFileLabel()</tspan></text>
<text y="2293"><tspan x="2180">-</tspan><tspan x="2192">reformatOldIsisLabel()</tspan></text>
<text y="2313"><tspan x="2180">-</tspan><tspan x="2192">writeLabels()</tspan></text>
</g>

<!-- Isis::ProcessMosaic -->
<g class="t">
<rect x="1255" y="2383" width="202" height="564" fill="#999" stroke="#666" stroke-width="1.4"/><line class="nl" x1="1255" y1="2405" x2="1457" y2="2405"/><line class="nl" x1="1255" y1="2467" x2="1457" y2="2467"/>
<text class="c" x="1356" y="2399">Isis::ProcessMosaic</text>
<text y="2420"><tspan x="1263">-</tspan><tspan x="1275">m_oss</tspan></text>
<text y="2440"><tspan x="1263">-</tspan><tspan x="1275">m_osl</tspan></text>
<text y="2460"><tspan x="1263">-</tspan><tspan x="1275">m_osb</tspan></text>
<text y="2482"><tspan x="1262">+</tspan><tspan x="1275">ProcessMosaic()</tspan></text>
<text y="2502"><tspan x="1262">+</tspan><tspan x="1275">~ProcessMosaic()</tspan></text>
<text y="2522"><tspan x="1262">+</tspan><tspan x="1275">StartProcess()</tspan></text>
<text y="2542"><tspan x="1262">+</tspan><tspan x="1275">EndProcess()</tspan></text>
<text y="2562"><tspan x="1262">+</tspan><tspan x="1275">imagePositions()</tspan></text>
<text y="2582"><tspan x="1262">+</tspan><tspan x="1275">SetInputCube()</tspan></text>
<text y="2602"><tspan x="1262">+</tspan><tspan x="1275">SetInputCube()</tspan></text>
<text y="2622"><tspan x="1262">+</tspan><tspan x="1275">SetOutputCube()</tspan></text>
<text y="2642"><tspan x="1262">+</tspan><tspan x="1275">SetOutputCube()</tspan></text>
<text y="2662"><tspan x="1262">+</tspan><tspan x="1275">SetBandBinMatch()</tspan></text>
<text y="2682" x="1275">and 22 more...</text>
<text y="2702"><tspan x="1262">+</tspan><tspan x="1275">OverlayToString()</tspan></text>
<text y="2722"><tspan x="1262">+</tspan><tspan x="1275">StringToOverlay()</tspan></text>
<text y="2742"><tspan x="1263">-</tspan><tspan x="1275">BandComparison()</tspan></text>
<text y="2762"><tspan x="1263">-</tspan><tspan x="1275">BandPriorityWithNoTracking()</tspan></text>
<text y="2782"><tspan x="1263">-</tspan><tspan x="1275">GetOriginDefaultByPixelType()</tspan></text>
<text y="2802"><tspan x="1263">-</tspan><tspan x="1275">GetBandIndex()</tspan></text>
<text y="2822"><tspan x="1263">-</tspan><tspan x="1275">GetTrackStatus()</tspan></text>
<text y="2842"><tspan x="1263">-</tspan><tspan x="1275">AddBandBinGroup()</tspan></text>
<text y="2862"><tspan x="1263">-</tspan><tspan x="1275">AddDefaultBandBinGroup()</tspan></text>
<text y="2882"><tspan x="1263">-</tspan><tspan x="1275">MatchBandBinGroup()</tspan></text>
<text y="2902"><tspan x="1263">-</tspan><tspan x="1275">ProcessAveragePriority()</tspan></text>
<text y="2922"><tspan x="1263">-</tspan><tspan x="1275">ResetCountBands()</tspan></text>
<text y="2942"><tspan x="1263">-</tspan><tspan x="1275">MatchDEMShapeModel()</tspan></text>
</g>
</svg>
</body></html>
